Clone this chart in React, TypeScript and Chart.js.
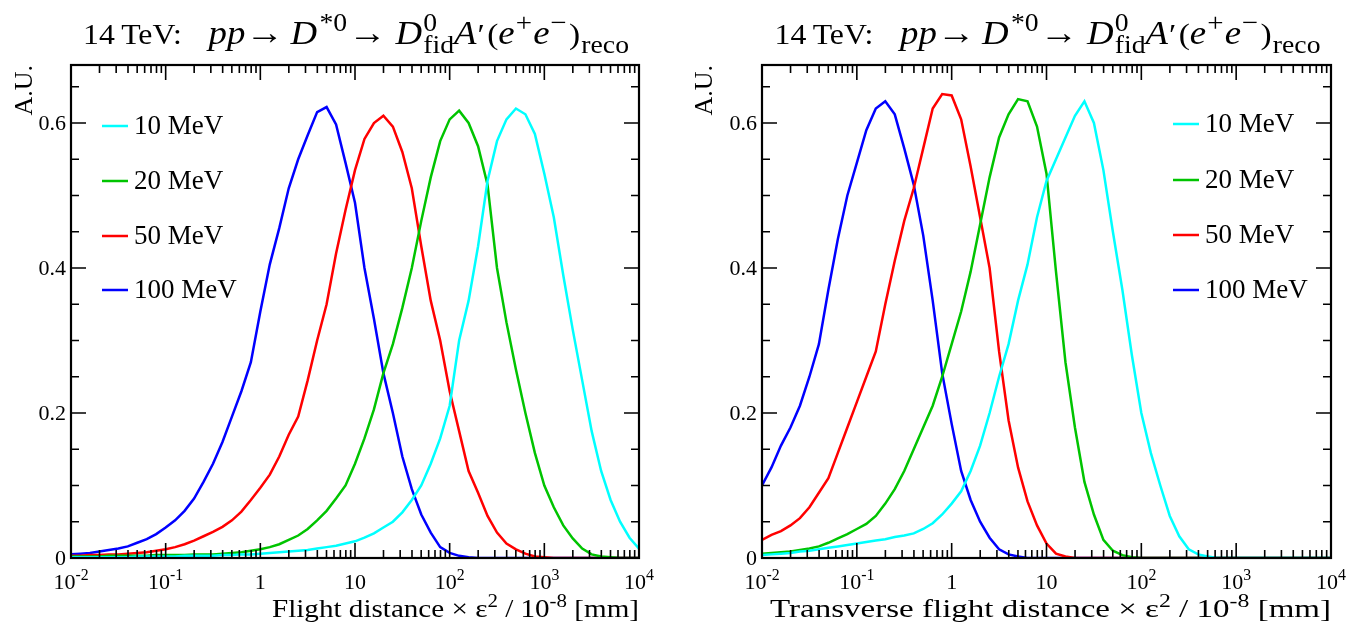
import React, { useEffect, useRef } from "react";
import { Chart, registerables } from "chart.js";

Chart.register(...registerables);

// log10 of the distance, shared x grid for every curve
const logX = [
  -2.0, -1.9, -1.8, -1.7, -1.6, -1.5, -1.4, -1.3, -1.2, -1.1,
  -1.0, -0.9, -0.8, -0.7, -0.6, -0.5, -0.4, -0.3, -0.2, -0.1,
  0.0, 0.1, 0.2, 0.3, 0.4, 0.5, 0.6, 0.7, 0.8, 0.9,
  1.0, 1.1, 1.2, 1.3, 1.4, 1.5, 1.6, 1.7, 1.8, 1.9,
  2.0, 2.1, 2.2, 2.3, 2.4, 2.5, 2.6, 2.7, 2.8, 2.9,
  3.0, 3.1, 3.2, 3.3, 3.4, 3.5, 3.6, 3.7, 3.8, 3.9, 4.0,
];

const seriesLabels = ["10 MeV", "20 MeV", "50 MeV", "100 MeV"];
const seriesColors = ["#00ffff", "#00c400", "#ff0000", "#0000ff"];

// Left panel: flight distance
const flight10 = [
  0.001, 0.001, 0.001, 0.001, 0.001, 0.001, 0.001, 0.002, 0.002, 0.002,
  0.002, 0.002, 0.003, 0.003, 0.003, 0.003, 0.004, 0.004, 0.005, 0.005,
  0.006, 0.007, 0.008, 0.009, 0.010, 0.011, 0.013, 0.015, 0.017, 0.020,
  0.023, 0.028, 0.034, 0.042, 0.050, 0.063, 0.080, 0.100, 0.130, 0.165,
  0.210, 0.300, 0.355, 0.430, 0.520, 0.575, 0.605, 0.620, 0.612, 0.585,
  0.530, 0.470, 0.390, 0.315, 0.245, 0.175, 0.120, 0.080, 0.050, 0.028, 0.013,
];
const flight20 = [
  0.002, 0.002, 0.002, 0.002, 0.003, 0.003, 0.003, 0.003, 0.003, 0.004,
  0.004, 0.004, 0.004, 0.005, 0.005, 0.005, 0.006, 0.007, 0.008, 0.010,
  0.012, 0.015, 0.019, 0.025, 0.031, 0.040, 0.052, 0.065, 0.082, 0.100,
  0.130, 0.165, 0.205, 0.255, 0.295, 0.345, 0.400, 0.465, 0.525, 0.575,
  0.605, 0.617, 0.600, 0.568, 0.515, 0.400, 0.325, 0.260, 0.200, 0.145,
  0.100, 0.070, 0.045, 0.027, 0.013, 0.005, 0.002, 0.001, 0.0, 0.0, 0.0,
];
const flight50 = [
  0.003, 0.003, 0.004, 0.004, 0.005, 0.005, 0.006, 0.007, 0.008, 0.010,
  0.012, 0.015, 0.019, 0.024, 0.030, 0.036, 0.043, 0.052, 0.064, 0.080,
  0.097, 0.115, 0.140, 0.170, 0.195, 0.245, 0.300, 0.350, 0.420, 0.480,
  0.535, 0.578, 0.600, 0.610, 0.595, 0.560, 0.510, 0.430, 0.355, 0.300,
  0.230, 0.175, 0.120, 0.090, 0.058, 0.035, 0.020, 0.012, 0.006, 0.002,
  0.001, 0.0, 0.0, 0.0, 0.0, 0.0, 0.0, 0.0, 0.0, 0.0, 0.0,
];
const flight100 = [
  0.005, 0.006, 0.007, 0.009, 0.011, 0.013, 0.016, 0.021, 0.026, 0.033,
  0.042, 0.052, 0.065, 0.082, 0.105, 0.130, 0.160, 0.195, 0.230, 0.270,
  0.340, 0.405, 0.455, 0.510, 0.550, 0.583, 0.615, 0.622, 0.598, 0.545,
  0.490, 0.400, 0.330, 0.255, 0.200, 0.140, 0.095, 0.060, 0.035, 0.015,
  0.007, 0.003, 0.001, 0.0, 0.0, 0.0, 0.0, 0.0, 0.0, 0.0,
  0.0, 0.0, 0.0, 0.0, 0.0, 0.0, 0.0, 0.0, 0.0, 0.0, 0.0,
];

// Right panel: transverse flight distance
const trans10 = [
  0.004, 0.005, 0.006, 0.007, 0.009, 0.010, 0.012, 0.014, 0.016, 0.018,
  0.020, 0.022, 0.024, 0.026, 0.029, 0.031, 0.034, 0.040, 0.048, 0.060,
  0.075, 0.092, 0.120, 0.155, 0.200, 0.250, 0.295, 0.355, 0.405, 0.470,
  0.520, 0.550, 0.580, 0.610, 0.630, 0.600, 0.535, 0.450, 0.370, 0.280,
  0.200, 0.145, 0.100, 0.058, 0.030, 0.012, 0.005, 0.002, 0.0, 0.0,
  0.0, 0.0, 0.0, 0.0, 0.0, 0.0, 0.0, 0.0, 0.0, 0.0, 0.0,
];
const trans20 = [
  0.006, 0.007, 0.008, 0.009, 0.011, 0.013, 0.016, 0.021, 0.027, 0.033,
  0.040, 0.047, 0.058, 0.075, 0.095, 0.120, 0.150, 0.180, 0.210, 0.250,
  0.295, 0.340, 0.395, 0.460, 0.525, 0.580, 0.612, 0.633, 0.630, 0.595,
  0.530, 0.395, 0.270, 0.180, 0.105, 0.060, 0.025, 0.010, 0.004, 0.001,
  0.0, 0.0, 0.0, 0.0, 0.0, 0.0, 0.0, 0.0, 0.0, 0.0,
  0.0, 0.0, 0.0, 0.0, 0.0, 0.0, 0.0, 0.0, 0.0, 0.0, 0.0,
];
const trans50 = [
  0.025, 0.032, 0.037, 0.045, 0.055, 0.070, 0.090, 0.110, 0.145, 0.180,
  0.215, 0.250, 0.285, 0.350, 0.410, 0.465, 0.510, 0.565, 0.620, 0.640,
  0.638, 0.605, 0.540, 0.470, 0.400, 0.285, 0.190, 0.125, 0.078, 0.045,
  0.020, 0.006, 0.002, 0.0, 0.0, 0.0, 0.0, 0.0, 0.0, 0.0,
  0.0, 0.0, 0.0, 0.0, 0.0, 0.0, 0.0, 0.0, 0.0, 0.0,
  0.0, 0.0, 0.0, 0.0, 0.0, 0.0, 0.0, 0.0, 0.0, 0.0, 0.0,
];
const trans100 = [
  0.100, 0.125, 0.155, 0.180, 0.210, 0.250, 0.295, 0.370, 0.440, 0.500,
  0.545, 0.590, 0.620, 0.630, 0.612, 0.565, 0.515, 0.445, 0.355, 0.255,
  0.185, 0.120, 0.080, 0.050, 0.028, 0.012, 0.005, 0.002, 0.0, 0.0,
  0.0, 0.0, 0.0, 0.0, 0.0, 0.0, 0.0, 0.0, 0.0, 0.0,
  0.0, 0.0, 0.0, 0.0, 0.0, 0.0, 0.0, 0.0, 0.0, 0.0,
  0.0, 0.0, 0.0, 0.0, 0.0, 0.0, 0.0, 0.0, 0.0, 0.0, 0.0,
];

// axis ticks
const xMajorTicks = [0.01, 0.1, 1, 10, 100, 1000, 10000];
const xTickBase = ["10", "10", "1", "10", "10", "10", "10"];
const xTickExp = ["-2", "-1", "", "", "2", "3", "4"];
const yMajorTicks = [0, 0.2, 0.4, 0.6];
const yTickLabels = ["0", "0.2", "0.4", "0.6"];
const yMinorTicks = [0.05, 0.1, 0.15, 0.25, 0.3, 0.35, 0.45, 0.5, 0.55, 0.65];
const yMax = 0.68;

const FONT = '"Liberation Serif", "Times New Roman", serif';

type Seg = {
  t: string;
  it?: boolean;
  pos?: "sup" | "sub";
  stack?: boolean;
  gap?: number; // extra space before the segment
  k?: number; // size factor
};

const titleSegs: Seg[] = [
  { t: "14\u2009TeV:", k: 0.95 },
  { t: "pp", it: true, k: 1.1, gap: 24 },
  { t: "\u2192", k: 1.15 },
  { t: "D", it: true, k: 1.1, gap: 6 },
  { t: "*0", pos: "sup", k: 1.15, gap: 2 },
  { t: "\u2192", k: 1.15, gap: 1 },
  { t: "D", it: true, k: 1.1, gap: 8 },
  { t: "0", pos: "sup", k: 1.15, gap: 1 },
  { t: "fid", pos: "sub", stack: true, k: 1.15 },
  { t: "A", it: true, k: 1.1 },
  { t: "\u2032", gap: 1 },
  { t: "(", gap: 2 },
  { t: "e", it: true, k: 1.1 },
  { t: "+", pos: "sup", k: 1.2, gap: 1 },
  { t: "e", it: true, k: 1.1, gap: 1 },
  { t: "\u2212", pos: "sup", k: 1.2, gap: 1 },
  { t: ")", gap: 2 },
  { t: "reco", pos: "sub", k: 1.15, gap: 1 },
];

const leftXTitle: Seg[] = [
  { t: "Flight distance \u00d7 \u03b5" },
  { t: "2", pos: "sup" },
  { t: " / 10" },
  { t: "-8", pos: "sup" },
  { t: " [mm]" },
];
const rightXTitle: Seg[] = [
  { t: "Transverse flight distance \u00d7 \u03b5" },
  { t: "2", pos: "sup" },
  { t: " / 10" },
  { t: "-8", pos: "sup" },
  { t: " [mm]" },
];

function segFont(s: Seg, size: number) {
  const sz = (s.pos ? size * 0.72 : size) * (s.k || 1);
  return `${s.it ? "italic " : ""}${sz}px ${FONT}`;
}

function drawRich(
  ctx: CanvasRenderingContext2D,
  segs: Seg[],
  x: number,
  y: number,
  size: number,
  align: "left" | "center" | "right",
  supShift = 0.42,
  subShift = 0.28,
  fitWidth = 0
) {
  const placed: { s: Seg; x: number }[] = [];
  let cur = 0;
  let lastStart = 0;
  let lastW = 0;
  for (const s of segs) {
    ctx.font = segFont(s, size);
    const w = ctx.measureText(s.t).width;
    if (s.stack) {
      placed.push({ s, x: lastStart });
      cur = lastStart + Math.max(lastW, w);
    } else {
      cur += s.gap || 0;
      placed.push({ s, x: cur });
      lastStart = cur;
      lastW = w;
      cur += w;
    }
  }
  const sx = fitWidth > 0 ? fitWidth / cur : 1;
  const total = cur * sx;
  const x0 = align === "left" ? x : align === "center" ? x - total / 2 : x - total;
  ctx.save();
  ctx.translate(x0, y);
  ctx.scale(sx, 1);
  ctx.textAlign = "left";
  ctx.textBaseline = "alphabetic";
  for (const p of placed) {
    const dy = p.s.pos === "sup" ? -size * supShift : p.s.pos === "sub" ? size * subShift : 0;
    ctx.font = segFont(p.s, size);
    ctx.fillText(p.s.t, p.x, dy);
  }
  ctx.restore();
}

type PanelCfg = {
  padLeft: number;
  padRight: number;
  legendX: number;
  legendY: number[];
  xTitle: Seg[];
  xTitleWidth: number;
  data: number[][];
};

const framePlugin = {
  id: "rootFrame",
  afterDatasetsDraw(chart: any, _args: any, opts: any) {
    const ctx: CanvasRenderingContext2D = chart.ctx;
    const a = chart.chartArea;
    const xs = chart.scales.x;
    const ys = chart.scales.y;
    const cfg: PanelCfg = opts.cfg;
    ctx.save();
    ctx.fillStyle = "#000";
    ctx.strokeStyle = "#000";

    // ticks
    ctx.lineWidth = 1.6;
    ctx.beginPath();
    const major = 15;
    const minor = 8;
    for (let i = 0; i < xMajorTicks.length; i++) {
      const px = xs.getPixelForValue(xMajorTicks[i]);
      ctx.moveTo(px, a.bottom);
      ctx.lineTo(px, a.bottom - major);
      ctx.moveTo(px, a.top);
      ctx.lineTo(px, a.top + major);
      if (i < xMajorTicks.length - 1) {
        for (let m = 2; m <= 9; m++) {
          const pm = xs.getPixelForValue(xMajorTicks[i] * m);
          ctx.moveTo(pm, a.bottom);
          ctx.lineTo(pm, a.bottom - minor);
          ctx.moveTo(pm, a.top);
          ctx.lineTo(pm, a.top + minor);
        }
      }
    }
    for (const v of yMajorTicks) {
      const py = ys.getPixelForValue(v);
      ctx.moveTo(a.left, py);
      ctx.lineTo(a.left + major, py);
      ctx.moveTo(a.right, py);
      ctx.lineTo(a.right - major, py);
    }
    for (const v of yMinorTicks) {
      const py = ys.getPixelForValue(v);
      ctx.moveTo(a.left, py);
      ctx.lineTo(a.left + minor, py);
      ctx.moveTo(a.right, py);
      ctx.lineTo(a.right - minor, py);
    }
    ctx.stroke();

    // frame
    ctx.lineWidth = 2.2;
    ctx.strokeRect(a.left, a.top, a.right - a.left, a.bottom - a.top);

    // y tick labels
    ctx.font = `22px ${FONT}`;
    ctx.textAlign = "right";
    ctx.textBaseline = "middle";
    yMajorTicks.forEach((v, i) => {
      ctx.fillText(yTickLabels[i], a.left - 5, ys.getPixelForValue(v) + 1);
    });

    // x tick labels
    xMajorTicks.forEach((v, i) => {
      const px = xs.getPixelForValue(v);
      const segs: Seg[] = [{ t: xTickBase[i] }];
      if (xTickExp[i]) segs.push({ t: xTickExp[i], pos: "sup" });
      drawRich(ctx, segs, px, a.bottom + 31, 22, "center", 0.4);
    });

    // x axis title
    drawRich(ctx, cfg.xTitle, a.right, 617, 26, "right", 0.4, 0.28, cfg.xTitleWidth);

    // y axis title
    ctx.save();
    ctx.translate(32, a.top);
    ctx.rotate(-Math.PI / 2);
    ctx.font = `26px ${FONT}`;
    ctx.textAlign = "right";
    ctx.textBaseline = "alphabetic";
    ctx.fillText("A.U.", 0, 0);
    ctx.restore();

    // title
    drawRich(ctx, titleSegs, (a.left + a.right) / 2 + 1, 44, 30, "center", 0.42, 0.3, 546);

    // legend
    chart.data.datasets.forEach((ds: any, i: number) => {
      const y = cfg.legendY[i];
      ctx.strokeStyle = ds.borderColor;
      ctx.lineWidth = 2.5;
      ctx.beginPath();
      ctx.moveTo(cfg.legendX, y);
      ctx.lineTo(cfg.legendX + 26, y);
      ctx.stroke();
      ctx.fillStyle = "#000";
      ctx.font = `27px ${FONT}`;
      ctx.textAlign = "left";
      ctx.textBaseline = "middle";
      ctx.fillText(ds.label, cfg.legendX + 32, y + 1);
    });

    ctx.restore();
  },
};

function Panel({ cfg, left, width }: { cfg: PanelCfg; left: number; width: number }) {
  const ref = useRef<HTMLCanvasElement>(null);
  useEffect(() => {
    const canvas = ref.current!;
    const chart = new Chart(canvas, {
      type: "line",
      data: {
        datasets: cfg.data.map((vals, i) => ({
          label: seriesLabels[i],
          data: logX.map((e, j) => ({ x: Math.pow(10, e), y: vals[j] })),
          borderColor: seriesColors[i],
          backgroundColor: seriesColors[i],
          borderWidth: 2.5,
          pointRadius: 0,
          tension: 0,
          fill: false,
        })),
      },
      options: {
        responsive: false,
        maintainAspectRatio: false,
        devicePixelRatio: 1,
        animation: false,
        layout: { padding: { left: cfg.padLeft, right: cfg.padRight, top: 65, bottom: 71 } },
        scales: {
          x: { type: "logarithmic", min: 0.01, max: 10000, display: false },
          y: { type: "linear", min: 0, max: yMax, display: false },
        },
        plugins: {
          legend: { display: false },
          tooltip: { enabled: false },
          title: { display: false },
          rootFrame: { cfg },
        } as any,
      },
      plugins: [framePlugin],
    });
    return () => chart.destroy();
  }, []);
  return (
    <canvas
      ref={ref}
      width={width}
      height={629}
      style={{ position: "absolute", left, top: 0, width, height: 629 }}
    />
  );
}

const leftCfg: PanelCfg = {
  padLeft: 71,
  padRight: 41,
  legendX: 102,
  legendY: [126, 181, 236, 290],
  xTitle: leftXTitle,
  xTitleWidth: 367,
  data: [flight10, flight20, flight50, flight100],
};

const rightCfg: PanelCfg = {
  padLeft: 82,
  padRight: 30,
  legendX: 493,
  legendY: [124, 180, 235, 290],
  xTitle: rightXTitle,
  xTitleWidth: 561,
  data: [trans10, trans20, trans50, trans100],
};

export default function App() {
  return (
    <div
      style={{
        position: "fixed",
        left: 0,
        top: 0,
        width: 1361,
        height: 629,
        background: "#fff",
        overflow: "hidden",
      }}
    >
      <Panel cfg={leftCfg} left={0} width={680} />
      <Panel cfg={rightCfg} left={680} width={681} />
    </div>
  );
}
